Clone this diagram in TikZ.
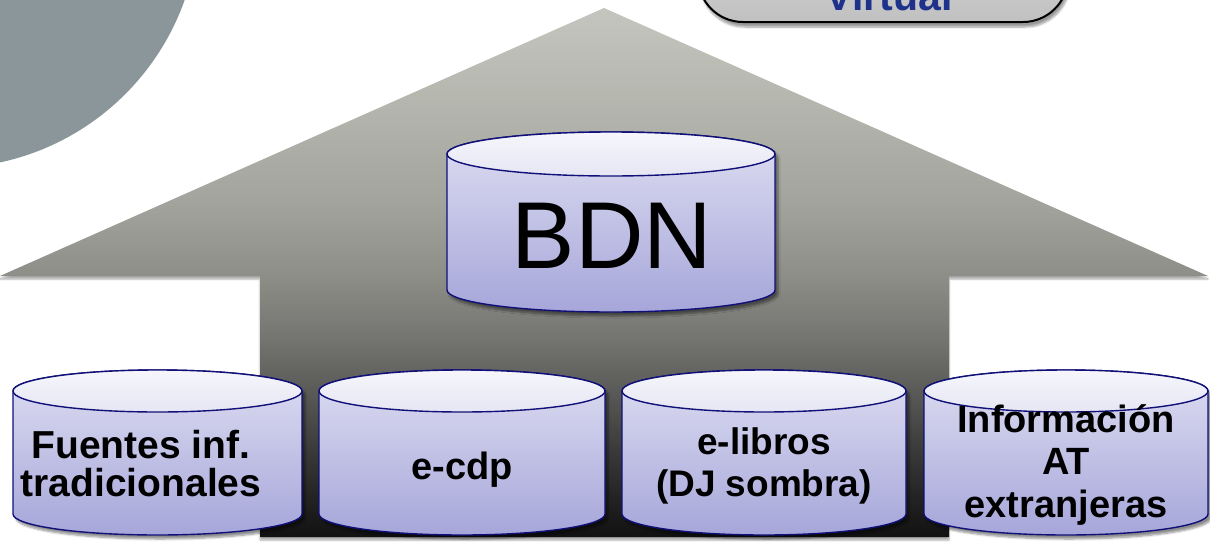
\documentclass[tikz,border=0pt]{standalone}
\usepackage{fontspec}
\setmainfont{Liberation Sans}
\usetikzlibrary{shadows.blur}

\definecolor{slate}{RGB}{138,150,154}
\definecolor{cylline}{RGB}{16,16,120}
\definecolor{cyltop}{RGB}{246,246,252}
\definecolor{cyltopb}{RGB}{230,230,244}
\definecolor{cylbodyt}{RGB}{222,222,242}
\definecolor{cylbodyb}{RGB}{166,166,218}
\definecolor{virtblue}{RGB}{30,50,140}
\definecolor{boxtop}{RGB}{218,218,218}
\definecolor{boxbot}{RGB}{192,192,192}

% arrow gradient: near black at the foot, pale grey at the tip
\definecolor{ar0}{RGB}{17,17,17}
\definecolor{ar1}{RGB}{34,34,34}
\definecolor{ar2}{RGB}{58,58,58}
\definecolor{ar3}{RGB}{85,85,83}
\definecolor{ar4}{RGB}{115,115,112}
\definecolor{ar5}{RGB}{142,142,136}
\definecolor{ar6}{RGB}{163,164,157}
\definecolor{ar7}{RGB}{181,183,175}
\definecolor{ar8}{RGB}{195,197,190}
\pgfdeclareverticalshading{arrowfill}{100bp}{%
  color(0bp)=(ar0); color(25bp)=(ar0); color(28.5bp)=(ar1);
  color(33.2bp)=(ar2); color(37.95bp)=(ar3); color(43.6bp)=(ar4);
  color(49.65bp)=(ar5); color(56.85bp)=(ar6); color(66.3bp)=(ar7);
  color(75bp)=(ar8); color(100bp)=(ar8)}

\tikzset{
  cylbody/.style={draw=cylline, line width=1.4pt, top color=cylbodyt, bottom color=cylbodyb,
    blur shadow={shadow xshift=3pt, shadow yshift=-4pt, shadow blur steps=6, shadow opacity=45}},
  cyllid/.style={draw=cylline, line width=1.4pt, top color=cyltop, bottom color=cyltopb},
  lbl/.style={font=\bfseries\fontsize{38}{42}\selectfont, align=center, inner sep=0pt, text=black},
}

% database cylinder: centre x, x radius, lid centre y, foot centre y, y radius
\newcommand\dbcylinder[5]{%
  \path[cylbody] (#1-#2,#3) -- (#1-#2,#4)
    arc[start angle=180, end angle=0, x radius=#2, y radius=#5]
    -- (#1+#2,#3)
    arc[start angle=0, end angle=-180, x radius=#2, y radius=#5] -- cycle;
  \path[cyllid] (#1,#3) ellipse[x radius=#2, y radius=#5];
}

\begin{document}
\begin{tikzpicture}[x=1pt, y=-1pt]
\useasboundingbox (0,0) rectangle (1210,541);
\clip (0,0) rectangle (1210,541);

% slate disc in the upper left corner
\fill[slate] (-53,-84) circle[radius=252];

% rounded label box at the top right
\path[draw=black, line width=2pt, top color=boxtop, bottom color=boxbot,
      rounded corners=45pt,
      blur shadow={shadow xshift=2pt, shadow yshift=-5pt, shadow blur steps=6, shadow opacity=40}]
  (698,-70) rectangle (1068,22);
\node[font=\bfseries\fontsize{41}{44}\selectfont, text=virtblue, anchor=base, inner sep=0pt]
  (virtual) at (889,10) {Virtual};

% large upward arrow
\path[shading=arrowfill,
      blur shadow={shadow xshift=0pt, shadow yshift=-3pt, shadow blur steps=5, shadow opacity=35}]
  (604,8) -- (1208,276) -- (949,276) -- (949,537) -- (260,537) -- (260,276) -- (0,276) -- cycle;

% central database
\dbcylinder{611}{164}{154}{290}{22}
\node[font=\fontsize{95}{100}\selectfont, inner sep=0pt] (bdn) at (612,236) {BDN};

% source databases along the foot
\dbcylinder{157.5}{144.5}{391}{514}{21}
\dbcylinder{462}{143}{391}{514}{21}
\dbcylinder{764}{142}{391}{514}{21}
\dbcylinder{1066}{142}{391}{514}{21}

\node[lbl, font=\bfseries\fontsize{39}{38}\selectfont] (fuentes) at (141,464) {Fuentes inf.\\tradicionales};
\node[lbl] (ecdp) at (462,470) {e-cdp};
\node[lbl, font=\bfseries\fontsize{37}{42}\selectfont] (elibros) at (764,466) {e-libros\\(DJ sombra)};
\node[lbl, font=\bfseries\fontsize{38}{42.5}\selectfont] (infoat) at (1066,465) {Información\\AT\\extranjeras};
\end{tikzpicture}
\end{document}
